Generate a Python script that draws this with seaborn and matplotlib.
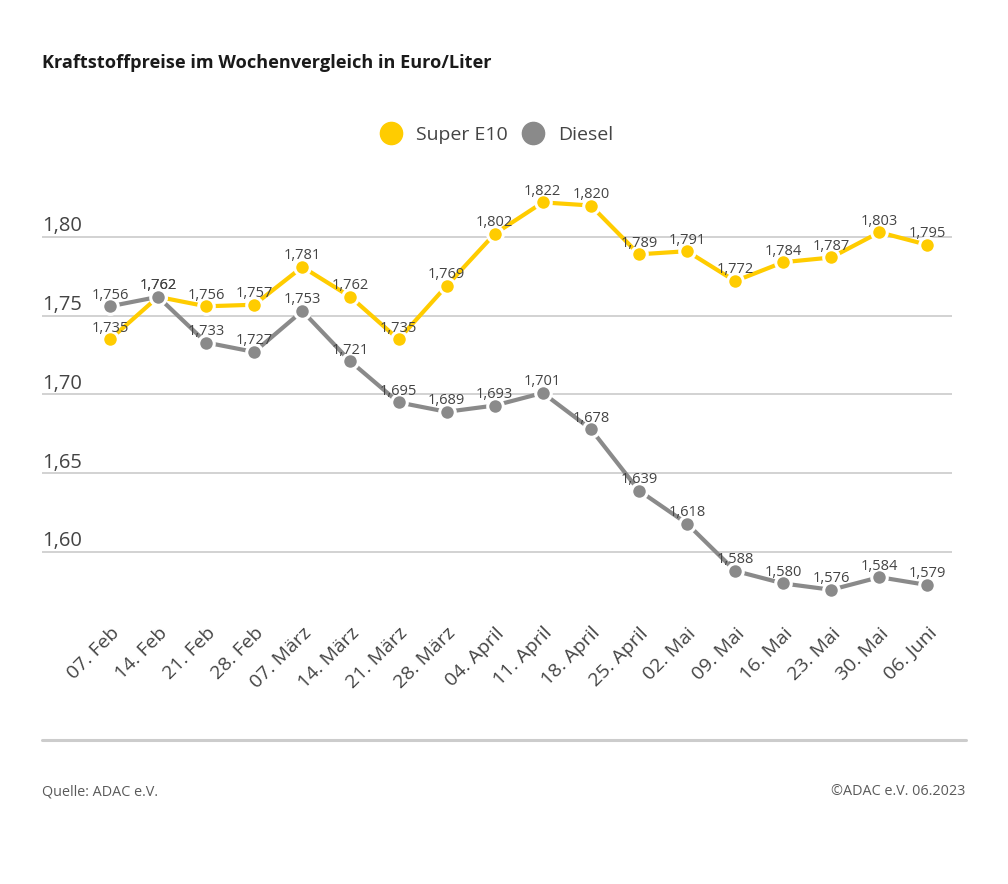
import matplotlib
matplotlib.use("Agg")
import matplotlib.pyplot as plt
import matplotlib.transforms as mtrans
from matplotlib.lines import Line2D
import pandas as pd
import seaborn as sns

dates = ["07. Feb", "14. Feb", "21. Feb", "28. Feb", "07. März", "14. März", "21. März", "28. März",
         "04. April", "11. April", "18. April", "25. April", "02. Mai", "09. Mai", "16. Mai", "23. Mai",
         "30. Mai", "06. Juni"]
super_e10 = [1.735, 1.762, 1.756, 1.757, 1.781, 1.762, 1.735, 1.769, 1.802, 1.822, 1.820, 1.789,
             1.791, 1.772, 1.784, 1.787, 1.803, 1.795]
diesel = [1.756, 1.762, 1.733, 1.727, 1.753, 1.721, 1.695, 1.689, 1.693, 1.701, 1.678, 1.639,
          1.618, 1.588, 1.580, 1.576, 1.584, 1.579]
y_ticks = [1.60, 1.65, 1.70, 1.75, 1.80]
y_labels = ["1,60", "1,65", "1,70", "1,75", "1,80"]
series_names = ["Super E10", "Diesel"]
colors = {"Super E10": "#FFCC00", "Diesel": "#8A8A8A"}

TEXT = "#444444"
W, H = 1008, 884
sns.set_style("white")
plt.rcParams["font.family"] = ["Open Sans", "Noto Sans", "DejaVu Sans"]

df = pd.DataFrame({"Datum": dates * 2,
                   "Preis": super_e10 + diesel,
                   "Sorte": ["Super E10"] * len(dates) + ["Diesel"] * len(dates)})

fig = plt.figure(figsize=(W / 100, H / 100), dpi=100, facecolor="white")
L, R, T, B = 42, 952, 160, 620
ax = fig.add_axes([L / W, 1 - B / H, (R - L) / W, (B - T) / H])

sns.lineplot(data=df, x="Datum", y="Preis", hue="Sorte", hue_order=series_names, palette=colors,
             sort=False, errorbar=None, marker="o", markersize=11.2, markeredgecolor="white",
             markeredgewidth=2.2, linewidth=3.0, legend=False, ax=ax, zorder=3)

ax.set_xlim(-1.414, 17.51)
ax.set_ylim(1.5568, 1.8489)
ax.set_xlabel("")
ax.set_ylabel("")
for s in ax.spines.values():
    s.set_visible(False)

ax.set_yticks(y_ticks)
ax.set_yticklabels(y_labels)
ax.grid(axis="y", color="#C6C6C6", linewidth=1.1)
ax.grid(axis="x", visible=False)
ax.set_axisbelow(True)
ax.tick_params(axis="y", length=0, pad=0, labelsize=14.5, labelcolor=TEXT)
ax.tick_params(axis="x", length=0, pad=3, labelsize=14, labelcolor=TEXT)
up = mtrans.ScaledTranslation(0, 0.5 / 72, fig.dpi_scale_trans)
for lab in ax.get_yticklabels():
    lab.set_ha("left")
    lab.set_va("bottom")
    lab.set_transform(lab.get_transform() + up)

ax.set_xticks(range(len(dates)))
ax.set_xticklabels(dates, rotation=45, ha="right", va="top", rotation_mode="anchor")

for vals in (super_e10, diesel):
    for i, v in enumerate(vals):
        ax.annotate(f"{v:.3f}".replace(".", ","), (i, v), xytext=(0, 8.0), textcoords="offset points",
                    ha="center", va="center", fontsize=10.5, color=TEXT, zorder=5)

handles = [Line2D([], [], linestyle="none", marker="o", markersize=16, color=colors[n]) for n in series_names]
fig.legend(handles, series_names, loc="center", bbox_to_anchor=(496 / W, 1 - 135 / H), ncol=2,
           frameon=False, fontsize=14, labelcolor=TEXT, handletextpad=0.69, columnspacing=0.69,
           handlelength=1.2)

fig.text(42 / W, 1 - 62.5 / H, "Kraftstoffpreise im Wochenvergleich in Euro/Liter", fontsize=13.05,
         fontweight="bold", color="#1A1A1A", ha="left", va="center")
fig.add_artist(Line2D([42 / W, 966 / W], [1 - 740 / H] * 2, color="#CCCCCC", linewidth=2.2))
fig.text(42 / W, 1 - 795 / H, "Quelle: ADAC e.V.", fontsize=10.4, color="#5A5A5A", ha="left", va="baseline")
fig.text(965 / W, 1 - 795 / H, "©ADAC e.V. 06.2023", fontsize=10.4, color="#5A5A5A", ha="right", va="baseline")

fig.savefig("out.png", dpi=100, facecolor="white")
